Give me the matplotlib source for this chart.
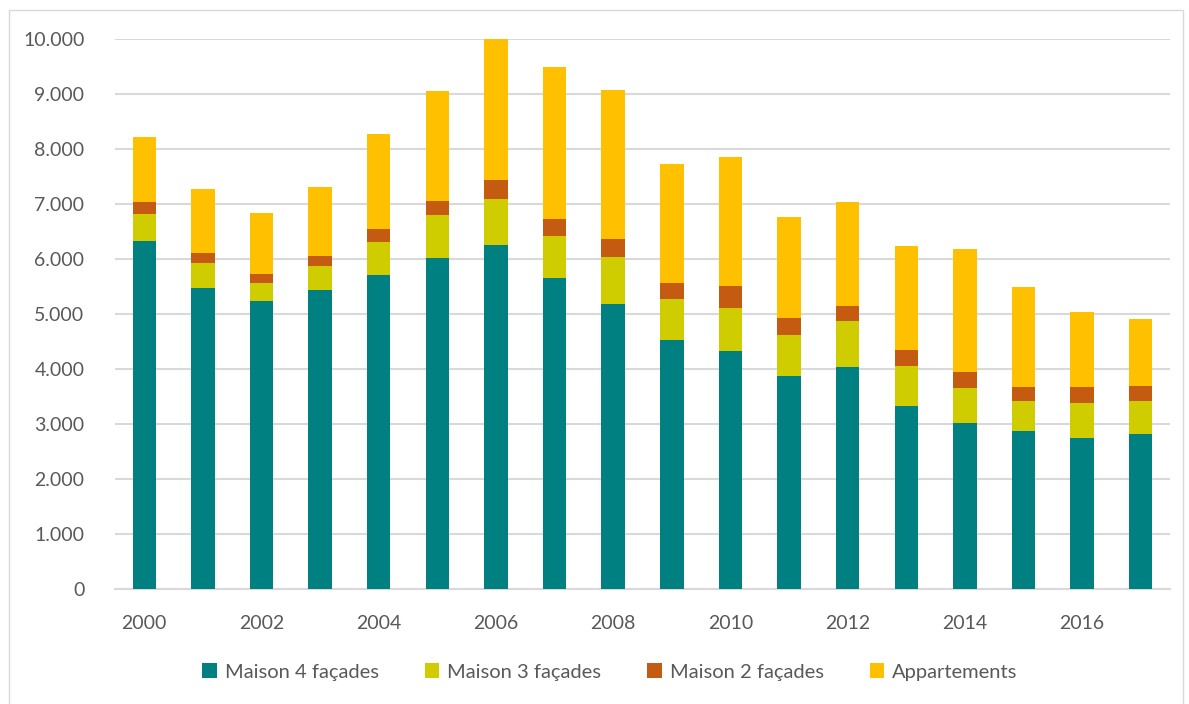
import numpy as np
import matplotlib.pyplot as plt
from matplotlib.patches import Rectangle
from matplotlib.ticker import FuncFormatter

annees = np.arange(2000, 2018)
maison4 = [6337, 5465, 5239, 5427, 5700, 6022, 6264, 5663, 5175, 4534, 4334, 3872, 4036, 3326, 3011, 2877, 2749, 2811]
maison3 = [474, 466, 328, 455, 613, 783, 833, 765, 865, 741, 777, 747, 833, 734, 643, 534, 632, 612]
maison2 = [236, 187, 169, 176, 225, 255, 333, 304, 328, 297, 395, 315, 284, 280, 297, 267, 297, 273]
appart = [1179, 1161, 1100, 1257, 1743, 2000, 2580, 2768, 2714, 2162, 2350, 1835, 1889, 1900, 2235, 1816, 1355, 1215]

series = [
    ('Maison 4 façades', maison4, '#008080'),
    ('Maison 3 façades', maison3, '#CFCC00'),
    ('Maison 2 façades', maison2, '#C55A11'),
    ('Appartements', appart, '#FFC000'),
]

plt.rcParams['font.family'] = ['Lato', 'DejaVu Sans']
gris = '#595959'

fig = plt.figure(figsize=(11.89, 7.04), dpi=100)
ax = fig.add_axes([115/1189, 1 - 588.6/704, 1055/1189, (588.6 - 39.3)/704])

x = np.arange(len(annees))
bas = np.zeros(len(annees))
for nom, vals, couleur in series:
    ax.bar(x, vals, width=0.4, bottom=bas, color=couleur, label=nom, zorder=3)
    bas += np.array(vals)

ax.set_xlim(-0.5, len(annees) - 0.5)
ax.set_ylim(0, 10000)
ax.set_yticks(np.arange(0, 10001, 1000))
ax.yaxis.set_major_formatter(FuncFormatter(lambda v, p: f'{int(v):,}'.replace(',', '.')))
ax.set_xticks(x[::2])
ax.set_xticklabels([str(a) for a in annees[::2]])
ax.grid(axis='y', color='#D9D9D9', linewidth=1.5, zorder=0)
for s in ['top', 'right', 'left']:
    ax.spines[s].set_visible(False)
ax.spines['bottom'].set_color('#D9D9D9')
ax.spines['bottom'].set_linewidth(1.5)
ax.tick_params(axis='both', length=0, labelsize=14, colors=gris)
ax.tick_params(axis='y', pad=22)
ax.tick_params(axis='x', pad=19)

fig.legend(loc='center', bbox_to_anchor=(0.513, 1 - 672/704), ncol=4, frameon=False,
           fontsize=14.5, labelcolor=gris, handlelength=0.7, handleheight=0.7,
           handletextpad=0.4, columnspacing=2.3)

fig.patches.append(Rectangle((9/1189, -0.01), 1174/1189, 1 - 10/704 + 0.01,
                             transform=fig.transFigure, fill=False,
                             edgecolor='#D9D9D9', linewidth=1))

plt.savefig('out.png', dpi=100)
